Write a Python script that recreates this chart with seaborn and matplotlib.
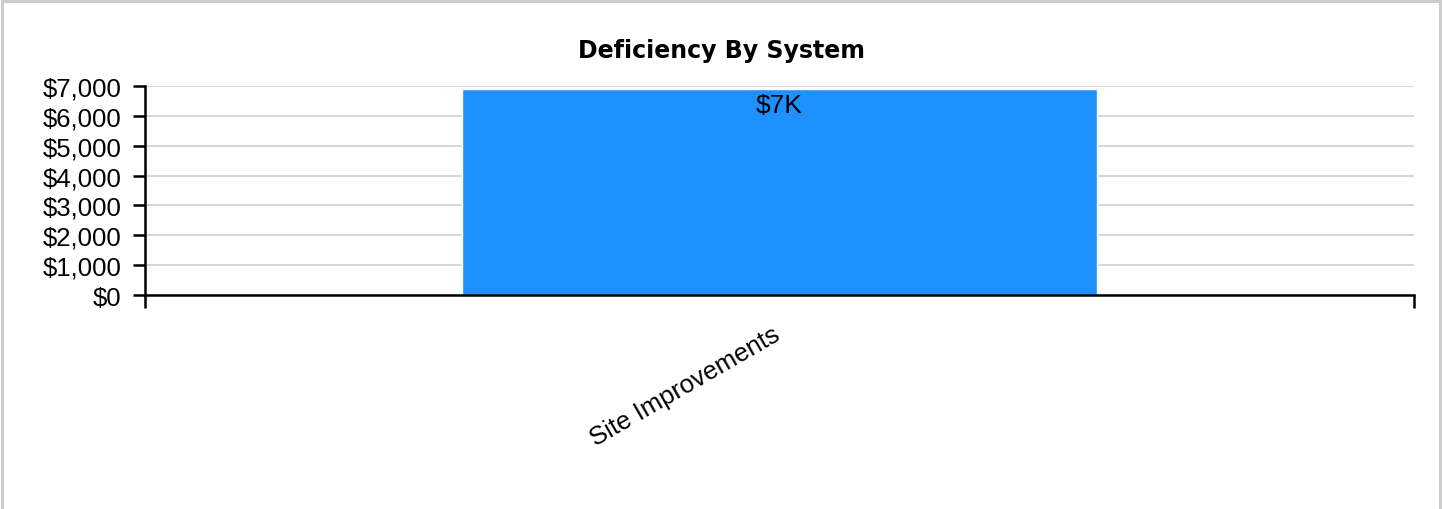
import matplotlib
matplotlib.use("Agg")
import matplotlib.pyplot as plt
import matplotlib.patches as mpatches
import matplotlib.transforms as mtransforms
from matplotlib.ticker import FuncFormatter
import seaborn as sns
import pandas as pd

systems = ["Site Improvements"]
costs = [6900]
bar_labels = ["$7K"]
y_ticks = [0, 1000, 2000, 3000, 4000, 5000, 6000, 7000]

sns.set_style("white")
plt.rcParams["font.family"] = ["Liberation Sans", "DejaVu Sans"]
plt.rcParams["text.color"] = "black"
plt.rcParams["xtick.color"] = "black"
plt.rcParams["ytick.color"] = "black"

fig = plt.figure(figsize=(14.42, 5.10), dpi=100)
ax = fig.add_axes([145 / 1442, 1 - 296 / 510, (1414 - 145) / 1442, (296 - 87) / 510])

df = pd.DataFrame({"system": systems, "cost": costs})
sns.barplot(data=df, x="system", y="cost", color="#1e90ff", width=0.5,
            saturation=1, ax=ax, zorder=2)

ax.set_xlim(-0.5, len(systems) - 0.5)
ax.set_ylim(0, 7000)
ax.set_yticks(y_ticks)
ax.yaxis.set_major_formatter(FuncFormatter(lambda v, p: f"${v:,.0f}"))
ax.grid(axis="y", color="#d3d3d3", linewidth=1.3, zorder=0)
ax.set_axisbelow(True)

# category band edges carry the tick marks; names sit at band centres
ax.set_xticks([i - 0.5 for i in range(len(systems) + 1)])
ax.set_xticklabels([""] * (len(systems) + 1))
ax.set_xticks(range(len(systems)), minor=True)
ax.set_xticklabels(systems, minor=True, rotation=30, ha="right",
                   rotation_mode="anchor", fontsize=18.5)
ax.tick_params(axis="x", which="major", bottom=True, direction="out",
               length=9, width=1.8, color="black")
ax.tick_params(axis="x", which="minor", bottom=True, length=0, pad=19)
ax.tick_params(axis="y", left=True, direction="out", length=9, width=1.8,
               color="black", labelsize=18.5, pad=8)
ax.set_xlabel("")
ax.set_ylabel("")

shift = mtransforms.ScaledTranslation(-8 / 100, 0, fig.dpi_scale_trans)
for lbl in ax.get_xticklabels(minor=True):
    lbl.set_transform(lbl.get_transform() + shift)

for s in ["top", "right"]:
    ax.spines[s].set_visible(False)
for s in ["left", "bottom"]:
    ax.spines[s].set_color("black")
    ax.spines[s].set_linewidth(1.8)

for i, (v, lab) in enumerate(zip(costs, bar_labels)):
    ax.annotate(lab, xy=(i, v), xytext=(0, -3), textcoords="offset points",
                ha="center", va="top", fontsize=19, color="black")

fig.text(0.5, 1 - 51 / 510, "Deficiency By System", ha="center", va="center",
         fontsize=17, fontweight="bold", family="DejaVu Sans")

fig.patches.append(mpatches.Rectangle((2 / 1442, -0.02), 1 - 4 / 1442, 1.02 - 2 / 510,
                                      transform=fig.transFigure, fill=False,
                                      edgecolor="#cccccc", linewidth=2.2))

fig.savefig("out.png", dpi=100)
